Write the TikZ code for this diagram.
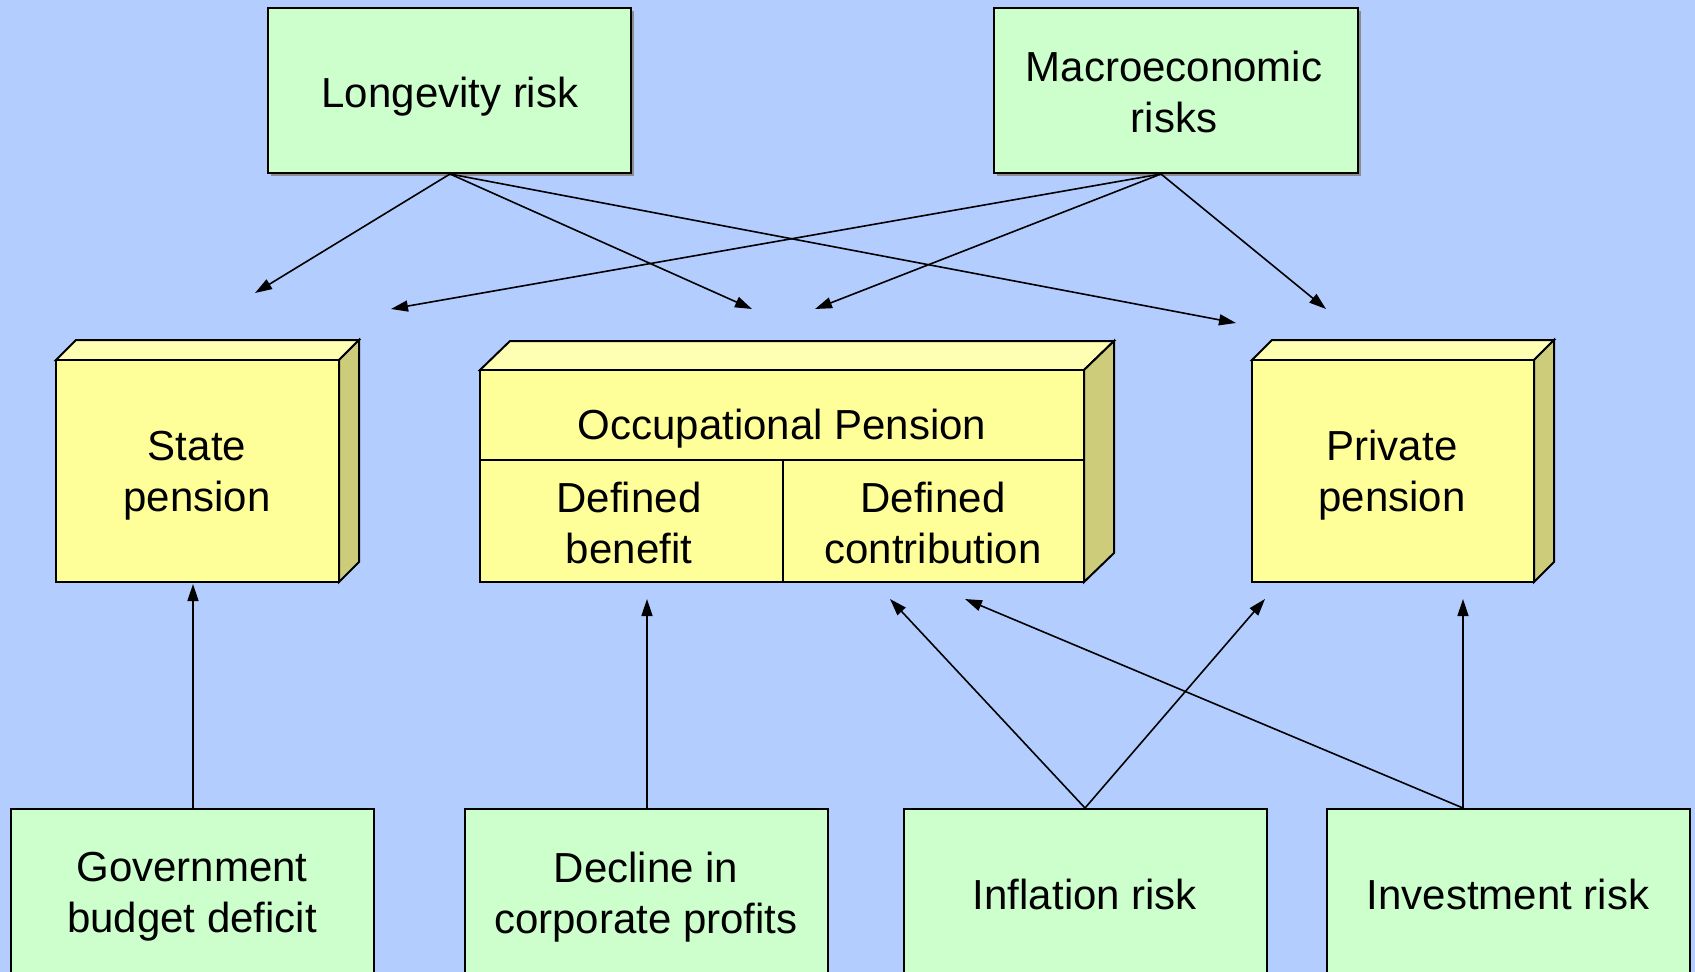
\documentclass[tikz,border=0pt]{standalone}
\usepackage{fontspec}
\setmainfont{Liberation Sans}
\usetikzlibrary{arrows.meta}
\definecolor{bg}{RGB}{180,205,255}
\definecolor{riskgreen}{RGB}{204,255,204}
\definecolor{penyellow}{RGB}{255,255,153}
\definecolor{pentop}{RGB}{255,255,180}
\definecolor{penside}{RGB}{204,204,122}
\begin{document}
\begin{tikzpicture}[x=1pt,y=-1pt,
  riskbox/.style={draw=black,line width=2pt,fill=riskgreen},
  face/.style={draw=black,line width=2pt,fill=penyellow,line join=miter},
  topface/.style={draw=black,line width=2pt,fill=pentop,line join=miter},
  sideface/.style={draw=black,line width=2pt,fill=penside,line join=miter},
  txt/.style={align=center,font=\fontsize{42}{51}\selectfont,inner sep=0pt},
  arr/.style={-{Triangle[length=17pt,width=11pt]},line width=1.6pt}]
\path[use as bounding box, fill=bg] (0,0) rectangle (1695,972);
\clip (0,0) rectangle (1695,972);

% top risk boxes (with light shadow)
\fill[black!45] (271,11) rectangle (634,176);
\fill[black!45] (997,11) rectangle (1361,176);
\draw[riskbox] (268,8) rectangle (631,173);
\draw[riskbox] (994,8) rectangle (1358,173);
\node[txt] (longevity) at (450,97) {Longevity risk};
\node[txt] (macro) at (1174,92) {Macroeconomic\\risks};

% State pension box
\draw[topface] (56,360) -- (76,340) -- (359,340) -- (339,360) -- cycle;
\draw[sideface] (339,360) -- (359,340) -- (359,562) -- (339,582) -- cycle;
\draw[face] (56,360) rectangle (339,582);
\node[txt] (state) at (197,476) {State\\pension};

% Occupational pension box
\draw[topface] (480,370) -- (510,341) -- (1114,341) -- (1084,370) -- cycle;
\draw[sideface] (1084,370) -- (1114,341) -- (1114,553) -- (1084,582) -- cycle;
\draw[face] (480,370) rectangle (1084,582);
\draw[line width=2pt] (480,460) -- (1084,460);
\draw[line width=2pt] (783,460) -- (783,582);
\node[txt] (occ) at (782,429) {Occupational Pension};
\node[txt] (db) at (629,523) {Defined\\benefit};
\node[txt] (dc) at (933,523) {Defined\\contribution};

% Private pension box
\draw[topface] (1252,360) -- (1272,340) -- (1554,340) -- (1534,360) -- cycle;
\draw[sideface] (1534,360) -- (1554,340) -- (1554,562) -- (1534,582) -- cycle;
\draw[face] (1252,360) rectangle (1534,582);
\node[txt] (private) at (1392,475) {Private\\pension};

% bottom risk boxes
\draw[riskbox] (11,809) rectangle (374,990);
\draw[riskbox] (465,809) rectangle (828,990);
\draw[riskbox] (904,809) rectangle (1267,990);
\draw[riskbox] (1327,809) rectangle (1690,990);
\node[txt] (gov) at (192,897) {Government\\budget deficit};
\node[txt] (decline) at (646,897) {Decline in\\corporate profits};
\node[txt] (inflation) at (1085,894) {Inflation risk};
\node[txt] (investment) at (1508,894) {Investment risk};

% connector end points
\coordinate (lsrc) at (450,174);
\coordinate (msrc) at (1161,174);
\coordinate (govsrc) at (193,808);
\coordinate (decsrc) at (647,808);
\coordinate (infsrc) at (1085,808);
\coordinate (invsrc) at (1463,808);
\coordinate (tl1) at (255,293);
\coordinate (tl2) at (752,309);
\coordinate (tl3) at (1236,323);
\coordinate (tm1) at (391,309);
\coordinate (tm2) at (815,309);
\coordinate (tm3) at (1326,309);
\coordinate (tgov) at (193,584);
\coordinate (tdec) at (647,599);
\coordinate (tinf1) at (890,599);
\coordinate (tinf2) at (1265,599);
\coordinate (tinv1) at (965,599);
\coordinate (tinv2) at (1463,599);

\draw[arr] (lsrc) -- (tl1);
\draw[arr] (lsrc) -- (tl2);
\draw[arr] (lsrc) -- (tl3);
\draw[arr] (msrc) -- (tm1);
\draw[arr] (msrc) -- (tm2);
\draw[arr] (msrc) -- (tm3);
\draw[arr] (govsrc) -- (tgov);
\draw[arr] (decsrc) -- (tdec);
\draw[arr] (infsrc) -- (tinf1);
\draw[arr] (infsrc) -- (tinf2);
\draw[arr] (invsrc) -- (tinv1);
\draw[arr] (invsrc) -- (tinv2);
\end{tikzpicture}
\end{document}
